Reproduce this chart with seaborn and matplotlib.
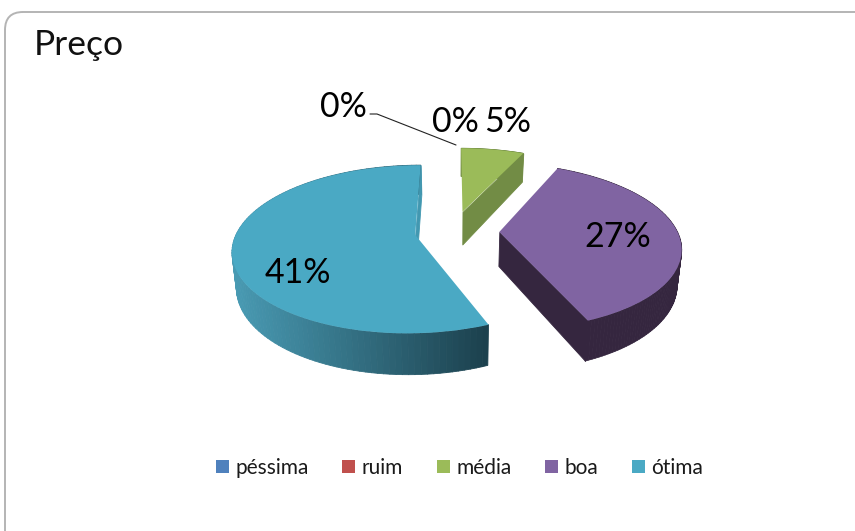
import numpy as np
import matplotlib
matplotlib.use("Agg")
import matplotlib.pyplot as plt
import seaborn as sns
from matplotlib.collections import PolyCollection
from matplotlib.colors import to_rgb
from matplotlib.patches import PathPatch
from matplotlib.path import Path
from matplotlib.transforms import Transform

# Survey answers for the "Preço" question
categories = ["péssima", "ruim", "média", "boa", "ótima"]
percent = [0, 0, 5, 27, 41]
slice_colors = ["#4F81BD", "#C0504D", "#9BBB59", "#8064A2", "#4AA9C4"]
explode = [0.0, 0.0, 0.26, 0.26, 0.215]
wall_colors = ["#3A5A80", "#803532", "#728C45", "#35263F", "#4298B1"]

sns.set_theme(style="white")
plt.rcParams["font.family"] = ["Lato", "DejaVu Sans"]

# Tilted-disc projection, in pixel-like axes units
CX, CY, RX, RY, TILT = 453.0, 231.5, 178.0, 80.5, 0.17
DEPTH, BASE_SHRINK = 34.0, 0.98


class TiltedDisc(Transform):
    input_dims = 2
    output_dims = 2
    is_separable = False

    def transform_non_affine(self, values):
        values = np.asarray(values, dtype=float)
        w = 1 + TILT * values[:, 1]
        return np.column_stack([CX + RX * values[:, 0] / w, CY - RY * values[:, 1] / w])


def top_face(u, v):
    return TiltedDisc().transform_non_affine(np.column_stack([u, v]))


def base_face(u, v):
    pts = top_face(u, v)
    w = 1 + TILT * np.asarray(v)
    pts[:, 0] = CX + (pts[:, 0] - CX) * BASE_SHRINK
    pts[:, 1] = pts[:, 1] + DEPTH / w
    return pts


def wall_polys(u, v):
    top, base = top_face(u, v), base_face(u, v)
    return [np.array([top[i], top[i + 1], base[i + 1], base[i]]) for i in range(len(top) - 1)]


def rim_shade(x):
    # The outer wall of the largest slice darkens from left to right
    t = np.clip((x - 229) / (484 - 229), 0, 1)
    a, b = np.array(to_rgb("#4A9DB6")), np.array(to_rgb("#1C414E"))
    return a + (b - a) * t


fig, ax = plt.subplots(figsize=(8.55, 5.31), dpi=100)
fig.subplots_adjust(0, 0, 1, 1)

wedges, _ = ax.pie(
    percent, explode=explode, colors=sns.color_palette(slice_colors),
    startangle=90, counterclock=False, radius=1.0,
    wedgeprops={"linewidth": 0, "zorder": 3},
)
ax.set_aspect("auto")
ax.set_xlim(0, 855)
ax.set_ylim(531, 0)
ax.axis("off")

projection = TiltedDisc() + ax.transData
for wedge in wedges:
    wedge.set_transform(projection)

# Side walls, built from each wedge's own angles and centre
for i, wedge in enumerate(wedges):
    if percent[i] == 0:
        continue
    cu, cv = wedge.center
    theta = np.radians(np.linspace(wedge.theta1, wedge.theta2, 120))
    u, v = cu + np.cos(theta), cv + np.sin(theta)
    rim = wall_polys(u, v)
    if categories[i] == "ótima":
        rim_colors = [rim_shade(p[:, 0].mean()) for p in rim]
    else:
        rim_colors = [wall_colors[i]] * len(rim)
    ax.add_collection(PolyCollection(rim, facecolors=rim_colors, edgecolors="face",
                                     linewidths=0.6, zorder=1))
    # Radial cut face on the clockwise-leading edge of the slice
    ru = np.array([cu, cu + np.cos(np.radians(wedge.theta1))])
    rv = np.array([cv, cv + np.sin(np.radians(wedge.theta1))])
    ax.add_collection(PolyCollection(wall_polys(ru, rv), facecolors=[wall_colors[i]],
                                     edgecolors="face", linewidths=0.6, zorder=2))

# Chart frame: rounded corner, open at the right and fading out at the bottom
frame = Path(
    [(5, 531), (5, 30), (5, 12), (23, 12), (855, 12)],
    [Path.MOVETO, Path.LINETO, Path.CURVE3, Path.CURVE3, Path.LINETO],
)
ax.add_patch(PathPatch(frame, fill=False, edgecolor="#B4B4B4", linewidth=1.4, zorder=0))

ax.text(34, 45, "Preço", fontsize=25.5, color="#111111", ha="left", va="center")

# Value labels
label_xy = [(343, 107), (455, 122), (508, 122), (618, 237), (298, 273)]
for value, (x, y) in zip(percent, label_xy):
    ax.text(x, y, f"{value}%", fontsize=24.5, color="black", ha="center", va="center", zorder=5)

ax.plot([370, 377, 456], [114, 114, 145], color="#222222", linewidth=0.8, zorder=4)

ax.legend(
    wedges, categories, ncol=5, frameon=False, loc="center",
    bbox_to_anchor=(459.5, 468), bbox_transform=ax.transData, fontsize=15,
    handlelength=0.62, handleheight=0.62, handletextpad=0.3, columnspacing=1.63,
    labelcolor="#1a1a1a", borderpad=0,
)

fig.savefig("out.png", dpi=100)
